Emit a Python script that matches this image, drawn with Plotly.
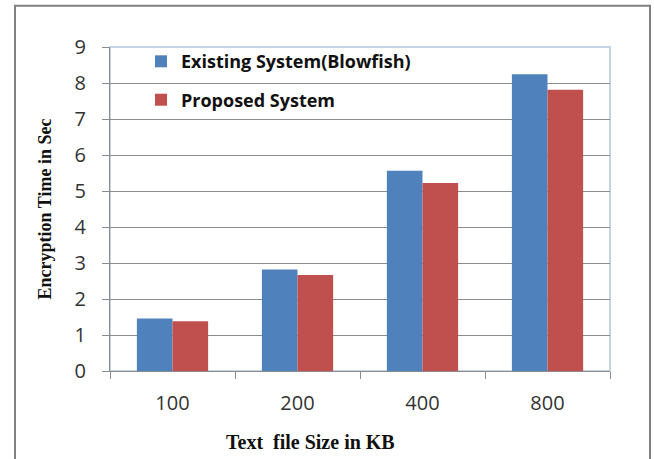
import plotly.graph_objects as go

# Encryption time (seconds) per text file size
sizes = ["100", "200", "400", "800"]
blowfish = [1.46, 2.82, 5.56, 8.24]
proposed = [1.38, 2.67, 5.22, 7.81]

BLUE = "#4F81BD"
RED = "#C0504D"
GRID = "#8C8C8C"

fig = go.Figure()
fig.add_trace(go.Bar(x=sizes, y=blowfish, name="Existing System(Blowfish)",
                     marker=dict(color=BLUE, line=dict(width=0)), legendgroup="a"))
fig.add_trace(go.Bar(x=sizes, y=proposed, name="Proposed System",
                     marker=dict(color=RED, line=dict(width=0)), legendgroup="b"))

tick_font = dict(family="Open Sans", size=20, color="#333333")

fig.update_layout(
    width=654, height=459,
    margin=dict(l=110, r=44, t=47, b=88),
    paper_bgcolor="white", plot_bgcolor="white",
    barmode="group", bargap=0.43, bargroupgap=0,
    showlegend=True,
    legend=dict(x=0.062, y=1.012, xanchor="left", yanchor="top",
                bgcolor="rgba(0,0,0,0)", tracegroupgap=12,
                traceorder="grouped",
                font=dict(family="Open Sans", size=18, color="#111111", weight="bold")),
    xaxis=dict(
        type="category", tickson="boundaries", ticks="outside", ticklen=7,
        tickcolor=GRID, showline=True, linecolor=GRID, linewidth=1,
        showgrid=False, ticklabelstandoff=14, tickfont=tick_font,
    ),
    yaxis=dict(
        range=[0, 9], dtick=1, ticks="outside", ticklen=7, tickcolor=GRID,
        showline=True, linecolor=GRID, linewidth=1,
        showgrid=True, gridcolor=GRID, gridwidth=1, zeroline=False,
        ticklabelstandoff=12, tickfont=tick_font,
        title=dict(text="Encryption Time in Sec",
                   font=dict(family="Liberation Serif", size=18, color="#111111",
                             weight="bold"),
                   standoff=18),
    ),
    annotations=[
        # x-axis title, set a little left of the plot centre
        dict(text="Text\u00a0 file Size in KB", xref="paper", yref="paper",
             x=0.40, y=-0.219, xanchor="center", yanchor="middle", showarrow=False,
             font=dict(family="Liberation Serif", size=20, color="#111111",
                       weight="bold")),
    ],
    shapes=[
        # light border around the plot area (top and right edges)
        dict(type="rect", xref="paper", yref="paper", x0=0, x1=1, y0=0, y1=1,
             line=dict(color="#B4C8DE", width=1.5), layer="below"),
        # outer chart frame
        dict(type="rect", xref="paper", yref="paper", x0=-0.19, x1=1.08,
             y0=-0.31, y1=1.127, line=dict(color="#808080", width=2)),
    ],
)

fig.write_html("out.html")
